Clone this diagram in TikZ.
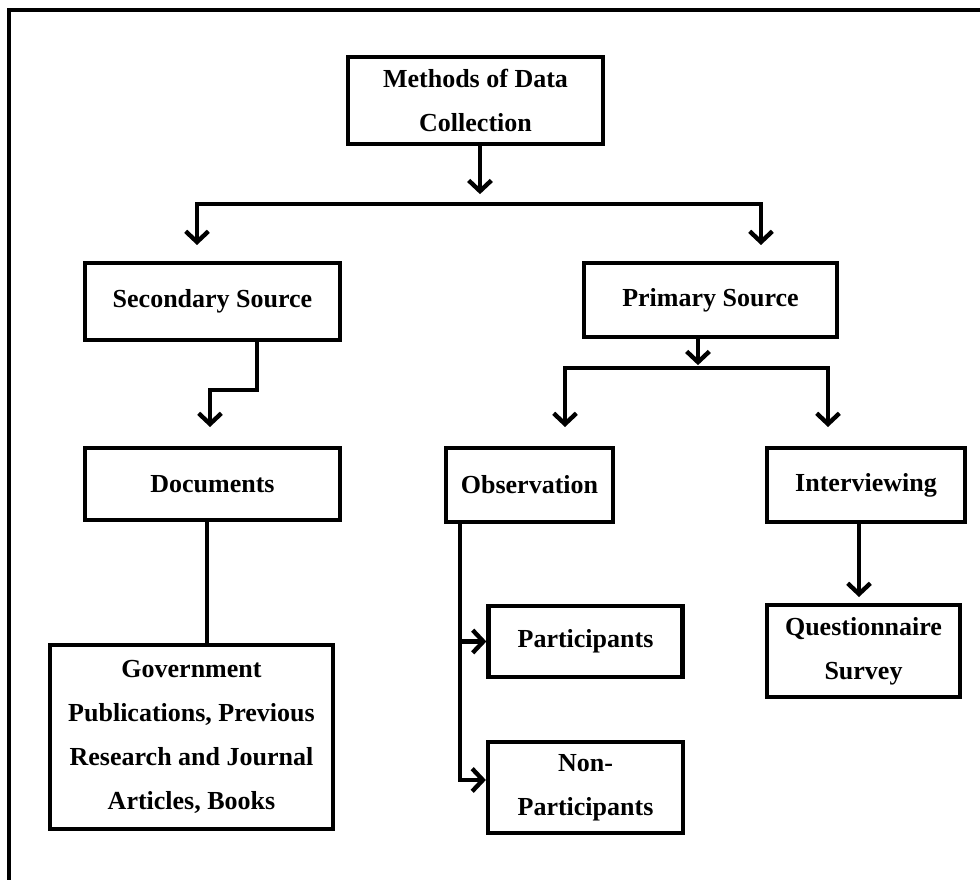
\documentclass[tikz,border=0pt]{standalone}
\usepackage{fontspec}
\setmainfont{Liberation Serif}
\usetikzlibrary{arrows.meta}

\begin{document}
\begin{tikzpicture}[x=0.75pt,y=-0.75pt]
  \tikzset{box/.style={draw, line width=3.2pt, align=center, inner sep=0pt,
      font=\bfseries\fontsize{19.5}{33}\selectfont},
    boxsize/.style 2 args={minimum width=#1*0.75pt, minimum height=#2*0.75pt},
    link/.style={line width=3.3pt},
    arr/.style={link, -{Straight Barb[length=8pt, width=17pt]}}}
  \useasboundingbox (0,0) rectangle (980,880);
  \draw[line width=3pt] (9,880) -- (9,10) -- (980,10);

  \node[box, boxsize={255}{87}] (meth) at (475.5,100.5) {Methods of Data\\Collection};
  \node[box, boxsize={255}{77}] (sec) at (212.5,301.5) {Secondary Source};
  \node[box, boxsize={253}{74}] (pri) at (710.5,300) {Primary Source};
  \node[box, boxsize={255}{72}] (doc) at (212.5,484) {Documents};
  \node[box, boxsize={167}{74}] (obs) at (529.5,485) {Observation};
  \node[box, boxsize={198}{74}] (int) at (866,485) {Interviewing};
  \node[box, boxsize={283}{184}] (gov) at (191.5,737)
    {Government\\Publications, Previous\\Research and Journal\\Articles, Books};
  \node[box, boxsize={194}{71}] (part) at (585.5,641.5) {Participants};
  \node[box, boxsize={195}{91}] (nonp) at (585.5,787.5) {Non-\\Participants};
  \node[box, boxsize={193}{92}] (quest) at (863.5,651) {Questionnaire\\Survey};

  \coordinate (split1) at (480,204);
  \coordinate (split2) at (698,368);

  \draw[arr] (meth.south -| 480,0) -- ++(0,48);
  \draw[arr] (split1) -| (197,245);
  \draw[arr] (split1) -| (761,245);
  \draw[arr] (sec.south -| 257,0) |- (210,390) -- (210,427);
  \draw[link] (doc.south -| 207,0) -- (gov.north -| 207,0);
  \draw[arr] (pri.south -| 698,0) -- ++(0,26);
  \draw[arr] (split2) -| (565,427);
  \draw[arr] (split2) -| (828,427);
  \draw[arr] (obs.south -| 460,0) |- (part.west);
  \draw[arr] (obs.south -| 460,0) |- (nonp.west |- 0,780);
  \draw[arr] (int.south -| 859,0) -- (859,597);
\end{tikzpicture}
\end{document}
